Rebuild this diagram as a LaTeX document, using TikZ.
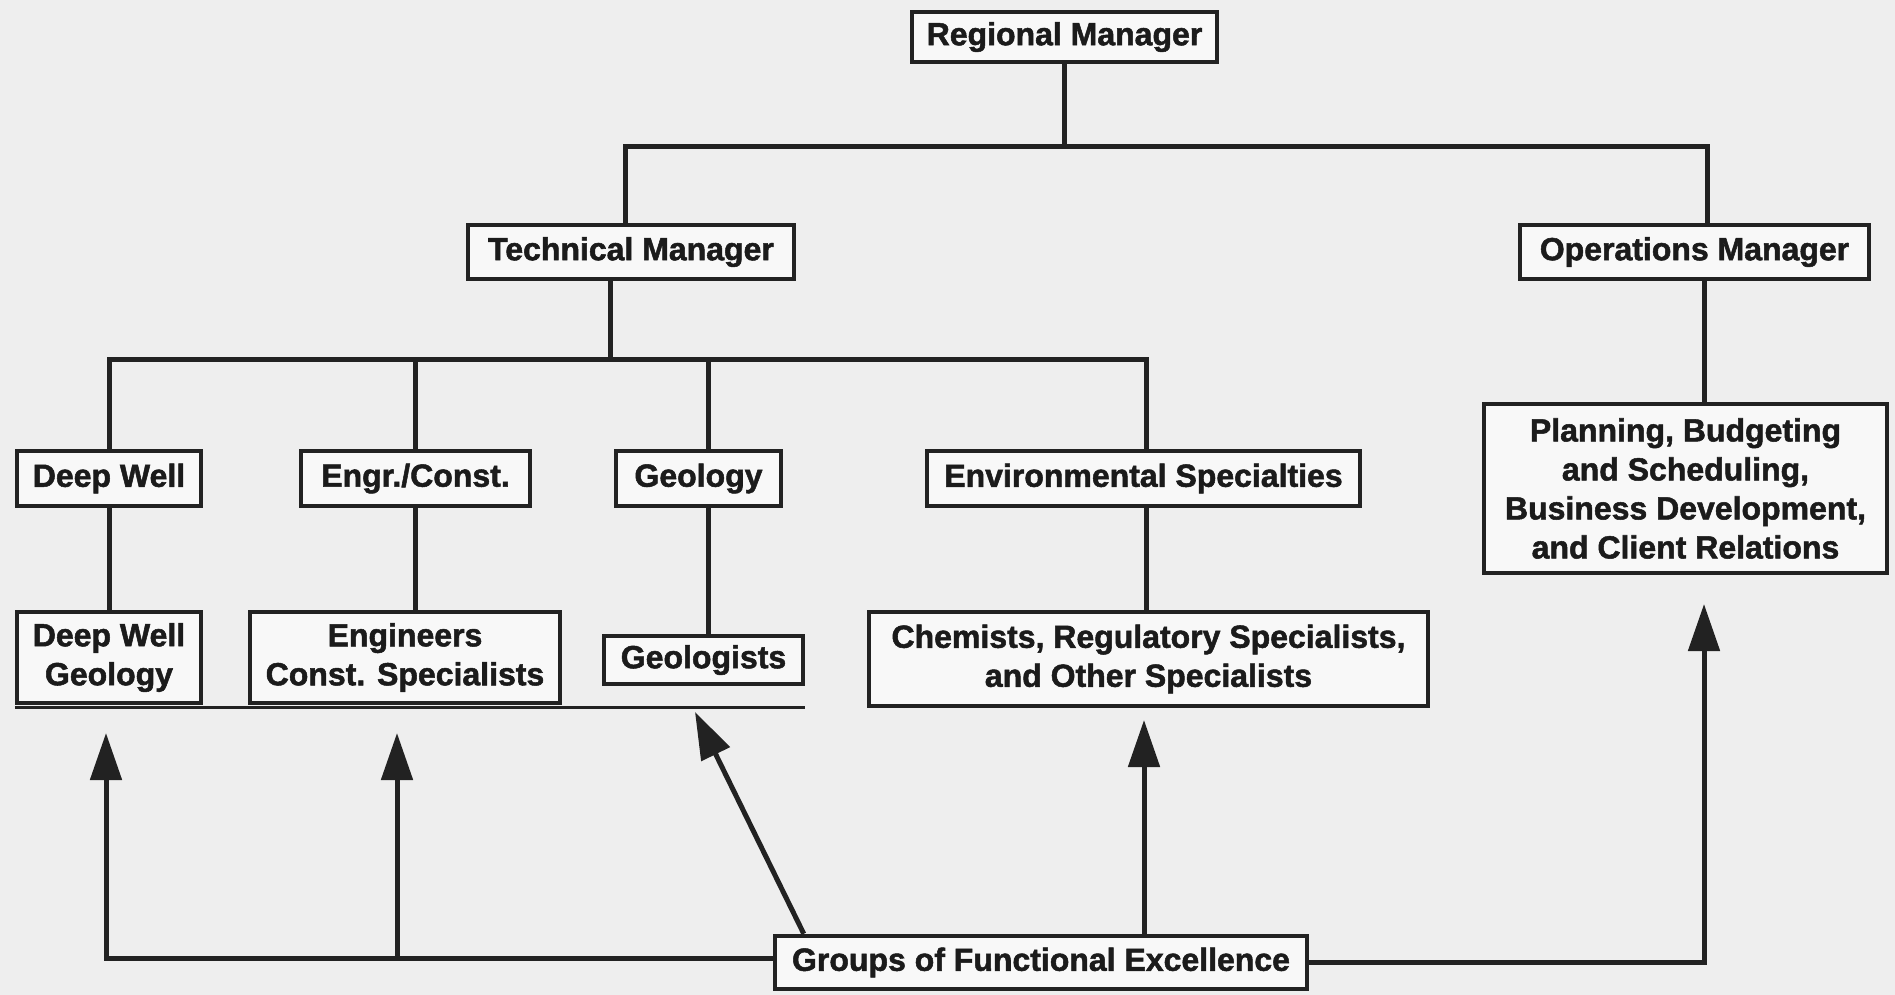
\documentclass[tikz,border=0pt]{standalone}
\usepackage{fontspec}
\setmainfont{Liberation Sans}[BoldFeatures={FakeBold=1.6}]
\usetikzlibrary{arrows.meta}
\definecolor{paper}{HTML}{EEEEEE}
\definecolor{ink}{HTML}{222222}
\begin{document}
\begin{tikzpicture}[x=1pt,y=-1pt,
  box/.style={draw=ink, line width=4.5pt, fill=white!60!paper, text=ink!80!black,
    inner sep=0pt, align=center,
    font=\fontsize{32}{39}\selectfont\bfseries},
  link/.style={draw=ink, line width=5pt},
  rule/.style={draw=ink, line width=3pt},
  arr/.style={draw=ink, line width=5pt,
    -{Triangle[length=47pt,width=31pt]}}]

% page
\fill[paper] (0,0) rectangle (1895,995);
\useasboundingbox (0,0) rectangle (1895,995);

% management
\node[box, minimum width=305, minimum height=50] (rm) at (1064.5,37) {Regional Manager};
\node[box, minimum width=326, minimum height=54] (tm) at (631,252) {Technical Manager};
\node[box, minimum width=349, minimum height=54] (om) at (1694.5,252) {Operations Manager};

% disciplines
\node[box, minimum width=184, minimum height=55] (ds) at (109,478.5) {Deep Well};
\node[box, minimum width=229, minimum height=55] (ec) at (415.5,478.5) {Engr./Const.};
\node[box, minimum width=165, minimum height=55] (geo) at (698.5,478.5) {Geology};
\node[box, minimum width=433, minimum height=55] (env) at (1143.5,478.5) {Environmental Specialties};

% staff groups
\node[box, minimum width=184, minimum height=91] (dwg) at (109,657.5) {Deep Well\\Geology};
\node[box, minimum width=310, minimum height=91] (ecs) at (405,657.5) {Engineers\\Const. Specialists};
\node[box, minimum width=199, minimum height=48] (geos) at (703.5,660) {Geologists};
\node[box, minimum width=559, minimum height=94] (chem) at (1148.5,659) {Chemists, Regulatory Specialists,\\and Other Specialists};
\node[box, minimum width=403, minimum height=169] (plan) at (1685.5,488.5) {Planning, Budgeting\\and Scheduling,\\Business Development,\\and Client Relations};

\node[box, minimum width=532, minimum height=53] (gfe) at (1041,962.5) {Groups of Functional Excellence};

% junctions
\coordinate (top) at (1066,147);
\coordinate (mid) at (610,359);

% top level tree
\draw[link] (rm.south) -- (rm.south |- top);
\draw[link] ([xshift=-6]tm.north) |- (top) -| ([xshift=12.5]om.north);
\draw[link] ([xshift=9.5]om.south) -- ([xshift=9.5]om.south |- plan.north);

% technical branch
\draw[link] ([xshift=-21]tm.south) -- (mid);
\draw[link] (ds.north) |- (mid) -| ([xshift=2.5]env.north);
\draw[link] (ec.north) -- (ec.north |- mid);
\draw[link] ([xshift=9.5]geo.north) -- ([xshift=9.5]geo.north |- mid);

\draw[link] (ds.south) -- (dwg.north);
\draw[link] (ec.south) -- (ec.south |- ecs.north);
\draw[link] ([xshift=9.5]geo.south) -- ([xshift=9.5]geo.south |- geos.north);
\draw[link] ([xshift=2.5]env.south) -- ([xshift=2.5]env.south |- chem.north);

% base rule under the left groups
\draw[rule] ([yshift=-2]dwg.south west) -- ([yshift=-2]dwg.south west -| geos.east);

% arrow tips
\coordinate (t1) at (106,733);
\coordinate (t2) at (397,733);
\coordinate (t3) at (695,712);
\coordinate (t4) at (1144,720);
\coordinate (t5) at (1704,604);

% functional excellence links
\draw[arr] ([yshift=4]gfe.west) -| (t1);
\draw[arr] ([yshift=4]gfe.west -| t2) -- (t2);
\draw[arr] ([xshift=31]gfe.north west) -- (t3);
\draw[arr] (gfe.north -| t4) -- (t4);
\draw[arr] (gfe.east) -| (t5);
\end{tikzpicture}
\end{document}
